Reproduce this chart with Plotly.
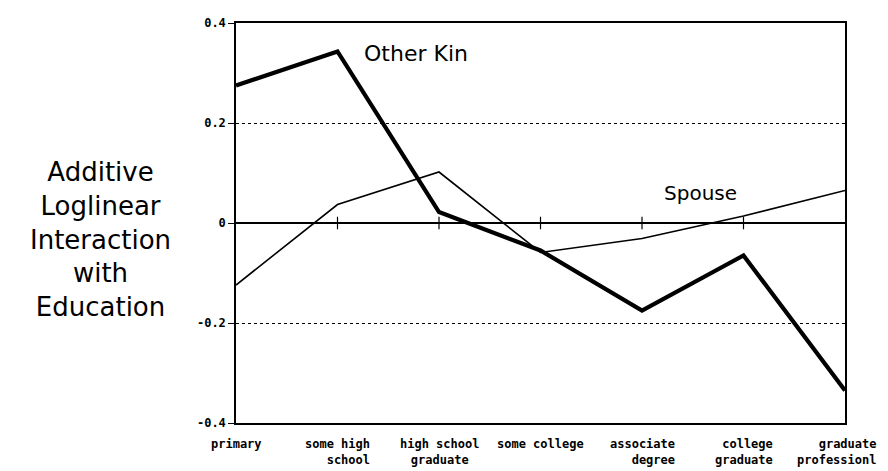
import plotly.graph_objects as go

categories = ["primary", "some high<br>school", "high school<br>graduate", "some college",
              "associate<br>degree", "college<br>graduate", "graduate<br>professionl"]
label_align = ["right", "right", "center", "right", "right", "right", "right"]
other_kin = [0.275, 0.343, 0.022, -0.055, -0.175, -0.065, -0.335]
spouse = [-0.124, 0.037, 0.102, -0.059, -0.031, 0.014, 0.065]
y_ticks = [-0.4, -0.2, 0, 0.2, 0.4]
y_tick_text = ["-0.4", "-0.2", "0", "0.2", "0.4"]

xs = list(range(len(categories)))

fig = go.Figure()
fig.add_trace(go.Scatter(x=xs, y=spouse, mode="lines", line=dict(color="black", width=1.6),
                         showlegend=False, hoverinfo="skip"))
fig.add_trace(go.Scatter(x=xs, y=other_kin, mode="lines", line=dict(color="black", width=4.2),
                         showlegend=False, hoverinfo="skip"))
# small tick marks on the zero line at interior categories
fig.add_trace(go.Scatter(x=xs[1:-1], y=[0] * (len(xs) - 2), mode="markers",
                         marker=dict(symbol="line-ns", size=9, line=dict(color="black", width=1.2)),
                         showlegend=False, hoverinfo="skip"))

last = len(categories) - 1
for i, (txt, al) in enumerate(zip(categories, label_align)):
    if i == last:
        anchor, shift = "right", 33
    else:
        anchor, shift = "center", 0
    fig.add_annotation(x=xs[i], y=0, xref="x", yref="paper", yanchor="top", xanchor=anchor,
                       xshift=shift, yshift=-12, text=txt, align=al, showarrow=False,
                       font=dict(family="DejaVu Sans Mono", size=12, color="black", weight="bold"))

fig.add_annotation(x=1.24, y=0.343, xref="x", yref="y", text="Other Kin", showarrow=False,
                   xanchor="left", yanchor="middle", yshift=-2,
                   font=dict(family="DejaVu Sans", size=22, color="black"))
fig.add_annotation(x=4.2, y=0.0, xref="x", yref="y", text="Spouse", showarrow=False,
                   xanchor="left", yanchor="bottom", yshift=16,
                   font=dict(family="DejaVu Sans", size=20, color="black"))

fig.add_annotation(x=-0.223, y=0.458, xref="paper", yref="paper", xanchor="center", yanchor="middle",
                   text="Additive<br>Loglinear<br>Interaction<br>with<br>Education",
                   showarrow=False, align="center",
                   font=dict(family="DejaVu Sans", size=26, color="black"))

fig.update_xaxes(range=[0, len(categories) - 1], showticklabels=False, showgrid=False,
                 zeroline=False, showline=True, linecolor="black", linewidth=1.5, mirror=True,
                 ticks="")
fig.update_yaxes(range=[-0.4, 0.4], tickvals=y_ticks, ticktext=y_tick_text,
                 showgrid=True, gridcolor="black", griddash="dot", gridwidth=1,
                 zeroline=True, zerolinecolor="black", zerolinewidth=1.5,
                 showline=True, linecolor="black", linewidth=1.5, mirror=True,
                 ticks="outside", ticklen=6, tickcolor="black", tickwidth=1.2,
                 tickfont=dict(family="DejaVu Sans Mono", size=12, color="black", weight="bold"))

# page body has an 8px margin, so the figure is sized to fit the 888x471 window
fig.update_layout(width=880, height=463, margin=dict(l=228, r=43, t=8, b=48),
                  plot_bgcolor="white", paper_bgcolor="white")

fig.write_html("out.html")
